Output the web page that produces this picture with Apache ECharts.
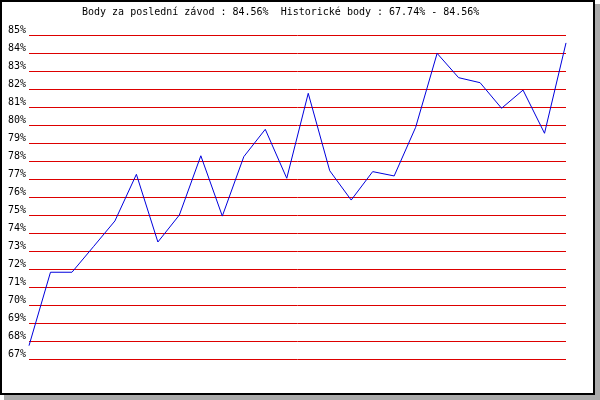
<!DOCTYPE html>
<html>
<head>
<meta charset="utf-8">
<script src="https://cdn.jsdelivr.net/npm/echarts@6/dist/echarts.min.js"></script>
<style>
html,body{margin:0;padding:0;background:#fff;}
#c{width:600px;height:400px;}
</style>
</head>
<body>
<div id="c"></div>
<script>
const titleText = 'Body za poslední závod : 84.56%  Historické body : 67.74% - 84.56%';
const races = ['1','2','3','4','5','6','7','8','9','10','11','12','13','14','15','16','17','18','19','20','21','22','23','24','25','26'];
const points = [67.74, 71.82, 71.82, 73.24, 74.67, 77.26, 73.5, 75.0, 78.29, 74.94, 78.24, 79.76, 77.04, 81.76, 77.46, 75.83, 77.41, 77.17, 79.87, 83.98, 82.63, 82.35, 80.93, 81.94, 79.54, 84.56];
const yMin = 67, yMax = 85, yStep = 1;

const font = 'DejaVu Sans Mono';
const chart = echarts.init(document.getElementById('c'), null, {renderer: 'canvas'});
chart.setOption({
  animation: false,
  backgroundColor: 'transparent',
  graphic: [
    {type: 'rect', z: -20, silent: true, shape: {x: 4, y: 4, width: 596, height: 396}, style: {fill: '#aaaaaa'}},
    {type: 'rect', z: -10, silent: true, shape: {x: 1, y: 1, width: 593, height: 393}, style: {fill: '#ffffff', stroke: '#000000', lineWidth: 2}},
    {type: 'text', z: 10, left: 82, top: 7, style: {text: titleText, font: '10px "' + font + '"', fill: '#000'}}
  ],
  grid: {left: 29, right: 34, top: 35, bottom: 41, containLabel: false},
  xAxis: {
    type: 'category', data: races, boundaryGap: false, show: false
  },
  yAxis: {
    type: 'value', min: yMin, max: yMax, interval: yStep,
    axisLine: {show: false}, axisTick: {show: false},
    axisLabel: {formatter: '{value}%', fontFamily: font, fontSize: 10, color: '#000', margin: 3, verticalAlign: 'bottom'},
    splitLine: {lineStyle: {color: '#dd0000', width: 1}}
  },
  series: [{
    type: 'line', data: points, symbol: 'none',
    lineStyle: {color: '#0000dd', width: 1}
  }]
});
</script>
</body>
</html>
